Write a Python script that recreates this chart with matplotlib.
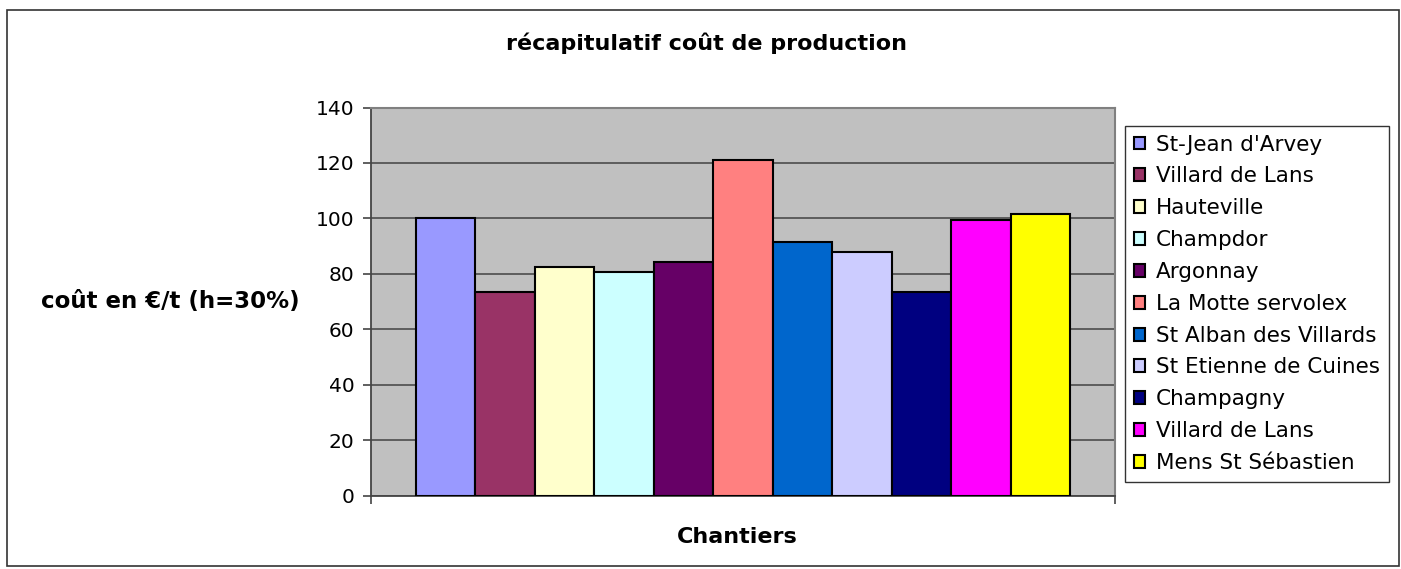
import matplotlib
matplotlib.use("Agg")
import matplotlib.pyplot as plt
from matplotlib.patches import Rectangle, Patch

title = "récapitulatif coût de production"
ylabel = "coût en €/t (h=30%)"
xlabel = "Chantiers"
sites = ["St-Jean d'Arvey", "Villard de Lans", "Hauteville", "Champdor", "Argonnay",
         "La Motte servolex", "St Alban des Villards", "St Etienne de Cuines",
         "Champagny", "Villard de Lans", "Mens St Sébastien"]
costs = [100.0, 73.5, 82.3, 80.8, 84.4, 121.2, 91.6, 88.0, 73.5, 99.5, 101.7]
colors = ["#9999FF", "#993366", "#FFFFCC", "#CCFFFF", "#660066", "#FF8080",
          "#0066CC", "#CCCCFF", "#000080", "#FF00FF", "#FFFF00"]
yticks = [0, 20, 40, 60, 80, 100, 120, 140]

plt.rcParams['font.family'] = ['DejaVu Sans']
fig = plt.figure(figsize=(14.01, 5.69), dpi=100)
ax = fig.add_axes([371/1401, 1-495.7/569, (1115-371)/1401, (495.7-107.5)/569])
ax.set_facecolor("#C0C0C0")

n = len(costs)
group = 0.88
w = group / n
handles = []
for i, (v, c, s) in enumerate(zip(costs, colors, sites)):
    x = -group/2 + w/2 + i*w
    ax.bar(x, v, width=w, color=c, edgecolor="black", linewidth=1.5, zorder=3)
    handles.append(Patch(facecolor=c, edgecolor="black", linewidth=1.5, label=s))

ax.set_xlim(-0.5, 0.5)
ax.set_ylim(0, 140)
ax.set_yticks(yticks)
ax.set_xticks([-0.5, 0.5])
ax.set_xticklabels(["", ""])
ax.tick_params(axis='y', direction='out', length=6, width=1.2, color="#444444",
               labelsize=14.5, pad=6)
ax.tick_params(axis='x', direction='out', length=6, width=1.2, color="#444444")
ax.yaxis.grid(True, color="#555555", linewidth=1.3, zorder=1)
ax.set_axisbelow(True)
for side in ["left", "bottom"]:
    ax.spines[side].set_color("#444444")
    ax.spines[side].set_linewidth(1.3)
for side in ["right", "top"]:
    ax.spines[side].set_color("#808080")
    ax.spines[side].set_linewidth(1.5)

fig.text(707/1401, 1-43/569, title, ha="center", va="center",
         fontsize=16, fontweight="bold")
fig.text(170/1401, 1-302/569, ylabel, ha="center", va="center",
         fontsize=16.5, fontweight="bold")
fig.text(737/1401, 1-537/569, xlabel, ha="center", va="center",
         fontsize=16, fontweight="bold")

leg = fig.legend(handles=handles, loc="upper left",
                 bbox_to_anchor=(1125/1401, 1-126/569),
                 fontsize=15.5, frameon=True, fancybox=False,
                 handlelength=0.55, handleheight=0.55, handletextpad=0.5,
                 labelspacing=0.55, borderpad=0.4, borderaxespad=0)
leg.get_frame().set_edgecolor("black")
leg.get_frame().set_linewidth(1)

fig.patches.append(Rectangle((7/1401, 3/569), (1399-7)/1401, (566-10)/569,
                             transform=fig.transFigure, fill=False,
                             edgecolor="#333333", linewidth=1.2))

fig.savefig("out.png", dpi=100)
